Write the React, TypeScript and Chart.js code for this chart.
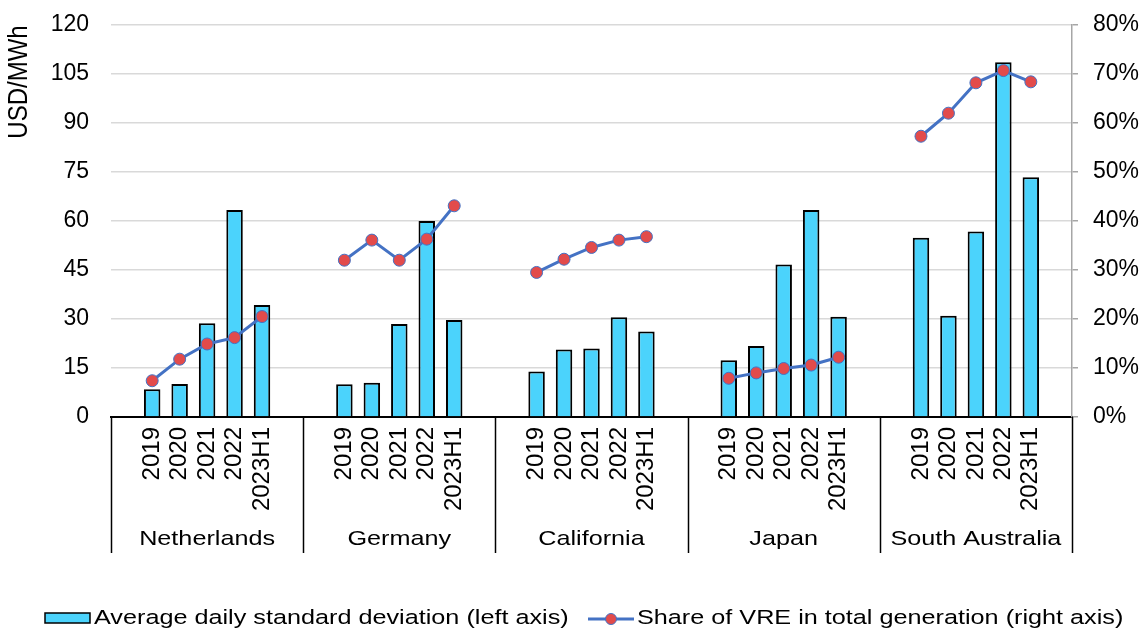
import { useEffect, useRef } from 'react';
import { Chart, registerables } from 'chart.js';

Chart.register(...registerables);

const countries = ['Netherlands', 'Germany', 'California', 'Japan', 'South Australia'];
const periods = ['2019', '2020', '2021', '2022', '2023H1'];

// Average daily standard deviation, USD/MWh (left axis), 5 periods per country in order
const stdDevValues = [
  8.5, 10.1, 28.7, 63.4, 34.3, // Netherlands
  10.0, 10.5, 28.5, 60.0, 29.7, // Germany
  13.9, 20.7, 21.0, 30.5, 26.2, // California
  17.4, 21.7, 46.7, 63.4, 30.7, // Japan
  54.9, 31.0, 56.8, 108.6, 73.4, // South Australia
];

// Share of VRE in total generation, % (right axis)
const vreShareValues = [
  7.4, 11.8, 14.9, 16.2, 20.5,
  32.0, 36.1, 32.0, 36.3, 43.1,
  29.5, 32.2, 34.6, 36.1, 36.8,
  7.9, 9.0, 9.9, 10.6, 12.2,
  57.3, 62.0, 68.2, 70.7, 68.4,
];

const leftTicks = { min: 0, max: 120, step: 15 };
const rightTicks = { min: 0, max: 80, step: 10 };

const barLabel = 'Average daily standard deviation (left axis)';
const lineLabel = 'Share of VRE in total generation (right axis)';
const yTitle = 'USD/MWh';

const SLOTS = periods.length + 2;
const labels: string[] = [];
const barData: (number | null)[] = [];
const lineData: (number | null)[] = [];
countries.forEach((_, g) => {
  labels.push('');
  barData.push(null);
  lineData.push(null);
  periods.forEach((p, i) => {
    labels.push(p);
    barData.push(stdDevValues[g * periods.length + i]);
    lineData.push(vreShareValues[g * periods.length + i]);
  });
  labels.push('');
  barData.push(null);
  lineData.push(null);
});

const FONT = "'Liberation Sans', Arial, sans-serif";
const BAR_FILL = '#4BD3FC';
const LINE_COLOR = '#4472C4';
const POINT_COLOR = '#E24B4B';

const decorPlugin = {
  id: 'decor',
  afterDraw(chart: any) {
    const { ctx, chartArea } = chart;
    const xs = chart.scales.x;
    const slot = (xs.right - xs.left) / labels.length;
    ctx.save();
    // group separators
    ctx.strokeStyle = '#000';
    ctx.lineWidth = 1.5;
    for (let g = 0; g <= countries.length; g++) {
      const x = Math.round(xs.left + g * SLOTS * slot) + 0.5;
      ctx.beginPath();
      ctx.moveTo(x, chartArea.bottom);
      ctx.lineTo(x, 553);
      ctx.stroke();
    }
    const drawStretched = (text: string, x: number, y: number, size: number, align: CanvasTextAlign, sx: number) => {
      ctx.save();
      ctx.translate(x, y);
      ctx.scale(sx, 1);
      ctx.font = `${size}px ${FONT}`;
      ctx.fillStyle = '#000';
      ctx.textAlign = align;
      ctx.textBaseline = 'alphabetic';
      ctx.fillText(text, 0, 0);
      ctx.restore();
    };
    // country labels
    countries.forEach((c, g) => {
      const cx = xs.left + (g * SLOTS + SLOTS / 2) * slot;
      drawStretched(c, cx, 545, 21, 'center', 1.2);
    });
    // y axis title
    ctx.save();
    ctx.translate(20, 82);
    ctx.rotate(-Math.PI / 2);
    ctx.scale(1, 1.12);
    ctx.font = `24px ${FONT}`;
    ctx.fillStyle = '#000';
    ctx.textAlign = 'center';
    ctx.textBaseline = 'middle';
    ctx.fillText(yTitle, 0, 0);
    ctx.restore();

    // legend
    ctx.fillStyle = BAR_FILL;
    ctx.strokeStyle = '#000';
    ctx.lineWidth = 1.5;
    ctx.fillRect(45, 613, 45, 10);
    ctx.strokeRect(45, 613, 45, 10);
    drawStretched(barLabel, 94, 624, 20.5, 'left', 1.23);
    ctx.strokeStyle = LINE_COLOR;
    ctx.lineWidth = 3;
    ctx.beginPath();
    ctx.moveTo(588, 619);
    ctx.lineTo(634, 619);
    ctx.stroke();
    ctx.beginPath();
    ctx.arc(611, 619, 5.5, 0, Math.PI * 2);
    ctx.fillStyle = POINT_COLOR;
    ctx.fill();
    ctx.lineWidth = 1;
    ctx.stroke();
    drawStretched(lineLabel, 637, 624, 20.5, 'left', 1.23);
    ctx.restore();
  },
};

export default function App() {
  const ref = useRef<HTMLCanvasElement>(null);
  useEffect(() => {
    if (!ref.current) return;
    const chart = new Chart(ref.current, {
      data: {
        labels,
        datasets: [
          {
            type: 'line',
            label: lineLabel,
            data: lineData,
            yAxisID: 'y1',
            borderColor: LINE_COLOR,
            borderWidth: 3,
            pointRadius: 6,
            pointBackgroundColor: POINT_COLOR,
            pointBorderColor: LINE_COLOR,
            pointBorderWidth: 1,
            spanGaps: false,
            order: 1,
          },
          {
            type: 'bar',
            label: barLabel,
            data: barData,
            yAxisID: 'y',
            backgroundColor: BAR_FILL,
            borderColor: '#000',
            borderWidth: 2,
            barPercentage: 0.6,
            categoryPercentage: 1,
            order: 2,
          },
        ],
      } as any,
      options: {
        responsive: false,
        animation: false,
        devicePixelRatio: 1,
        layout: { padding: { top: 25, left: 0, right: 0, bottom: 0 } },
        plugins: { legend: { display: false }, tooltip: { enabled: false } },
        scales: {
          x: {
            type: 'category',
            offset: true,
            grid: { display: false, drawTicks: false },
            border: { display: true, color: '#000', width: 2 },
            ticks: {
              autoSkip: false,
              maxRotation: 90,
              minRotation: 90,
              padding: 10,
              color: '#000',
              font: { family: FONT, size: 24 },
            },
            afterFit: (s: any) => {
              s.height = 213;
            },
          },
          y: {
            position: 'left',
            min: leftTicks.min,
            max: leftTicks.max,
            grid: { color: '#D9D9D9', lineWidth: 1.5, drawTicks: false },
            border: { display: false },
            ticks: {
              stepSize: leftTicks.step,
              padding: 22,
              color: '#000',
              font: { family: FONT, size: 23 },
            },
            afterFit: (s: any) => {
              s.width = 111;
              s.paddingTop = 0;
              s.paddingBottom = 0;
            },
          },
          y1: {
            position: 'right',
            min: rightTicks.min,
            max: rightTicks.max,
            grid: { drawOnChartArea: false, drawTicks: true, tickLength: 6, color: '#A6A6A6', lineWidth: 1.5 },
            border: { display: true, color: '#A6A6A6', width: 1.5 },
            ticks: {
              stepSize: rightTicks.step,
              padding: 15,
              color: '#000',
              font: { family: FONT, size: 23 },
              callback: (v: any) => `${v}%`,
            },
            afterFit: (s: any) => {
              s.width = 73;
              s.paddingTop = 0;
              s.paddingBottom = 0;
            },
          },
        },
      } as any,
      plugins: [decorPlugin],
    });
    return () => chart.destroy();
  }, []);
  return (
    <div style={{ position: 'fixed', left: 0, top: 0, width: 1145, height: 630, background: '#fff' }}>
      <canvas ref={ref} width={1145} height={630} style={{ display: 'block' }} />
    </div>
  );
}
